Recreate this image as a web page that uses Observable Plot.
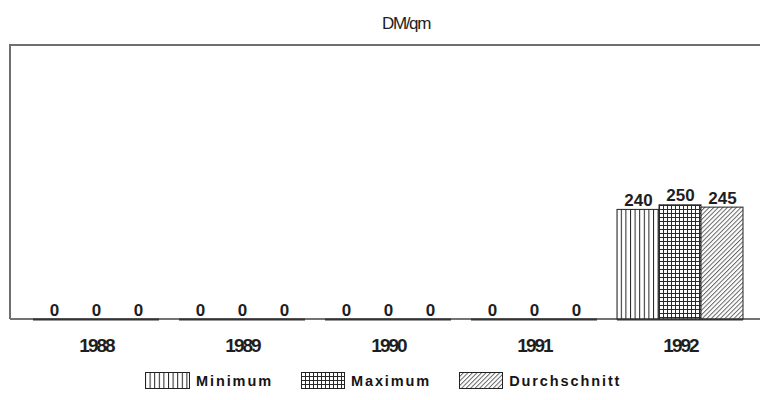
<!DOCTYPE html>
<html>
<head>
<meta charset="utf-8">
<script src="https://cdn.jsdelivr.net/npm/d3@7"></script>
<script src="https://cdn.jsdelivr.net/npm/@observablehq/plot@0.6"></script>
<style>
  body { margin: 0; background: #fff; font-family: "Liberation Sans", Arial, sans-serif; color: #1e1e1e; }
  #title {
    width: 760px; height: 33px; box-sizing: border-box; padding-left: 52px;
    text-align: center; font-family: "Liberation Sans", Arial, sans-serif;
    font-size: 17px; letter-spacing: -1.4px; line-height: 48px; color: #222;
  }
  #legend { display: flex; align-items: center; margin-left: 145px; padding-top: 9px; }
  #legend .item { display: flex; align-items: center; margin-right: 28px; }
  #legend svg { margin-right: 6px; display: block; }
  #legend span { font-weight: bold; font-size: 14.5px; letter-spacing: 1.9px; color: #151515; }
</style>
</head>
<body>
<!-- hatch patterns shared by the bars and the legend swatches -->
<svg width="0" height="0" style="position:absolute">
  <defs>
    <pattern id="p-min" patternUnits="userSpaceOnUse" width="4.6" height="10">
      <rect width="4.6" height="10" fill="#fff"/>
      <line x1="0.5" y1="0" x2="0.5" y2="10" stroke="#222" stroke-width="1"/>
    </pattern>
    <pattern id="p-max" patternUnits="userSpaceOnUse" width="4" height="4">
      <rect width="4" height="4" fill="#fff"/>
      <path d="M0.5,0V4M0,0.5H4" stroke="#2a2a2a" stroke-width="1" fill="none"/>
    </pattern>
    <pattern id="p-avg" patternUnits="userSpaceOnUse" width="3.2" height="10" patternTransform="rotate(45)">
      <rect width="3.2" height="10" fill="#fff"/>
      <line x1="0.5" y1="0" x2="0.5" y2="10" stroke="#555" stroke-width="0.9"/>
    </pattern>
  </defs>
</svg>

<div id="title">DM/qm</div>
<div id="chart"></div>
<div id="legend"></div>

<script>
// Price per square metre (DM/qm), by year
const years = [1988, 1989, 1990, 1991, 1992];
const series = ["Minimum", "Maximum", "Durchschnitt"];
const minimum = [0, 0, 0, 0, 240];
const maximum = [0, 0, 0, 0, 250];
const durchschnitt = [0, 0, 0, 0, 245];
const fills = ["url(#p-min)", "url(#p-max)", "url(#p-avg)"];

const rows = years.flatMap((year, i) => [
  {year, series: series[0], value: minimum[i]},
  {year, series: series[1], value: maximum[i]},
  {year, series: series[2], value: durchschnitt[i]}
]);

const W = 760, H = 330;
const mL = 10, mR = 0, mT = 12, mB = 44;

const plot = Plot.plot({
  width: W, height: H,
  marginLeft: mL, marginRight: mR, marginTop: mT, marginBottom: mB,
  style: {background: "transparent", fontFamily: "Liberation Sans, Arial, sans-serif", color: "#1e1e1e"},
  fx: {domain: years, range: [17.35, 758.65], paddingInner: 0.14, paddingOuter: 0.1, axis: null},
  x: {domain: series, padding: 0, axis: null},
  y: {domain: [0, 600], axis: null},
  color: {domain: series, range: fills},
  marks: [
    Plot.barY(rows, {fx: "year", x: "series", y: "value", fill: "series", stroke: "#222", strokeWidth: 1}),
    Plot.ruleY([0], {stroke: "#333", strokeWidth: 2}),
    Plot.text(rows, {
      fx: "year", x: "series", y: "value", text: d => String(d.value),
      lineAnchor: "bottom", dy: -4, fontSize: 17, fontWeight: "bold", fill: "#1e1e1e"
    }),
    Plot.text(years, {
      fx: d => d, text: d => String(d), frameAnchor: "bottom", dy: 26, lineAnchor: "middle",
      fontSize: 19, fontWeight: "bold", fill: "#1e1e1e", className: "year-label"
    })
  ]
});

// condensed look of the year labels
d3.select(plot).selectAll(".year-label text").style("letter-spacing", "-2px");

// open frame: top and left edges plus the baseline across the full width
const y = plot.scale("y");
const yTop = y.apply(600), yBase = y.apply(0);
const svg = d3.select(plot);
svg.insert("path", ":first-child")
  .attr("d", `M${mL},${yBase}V${yTop}H${W}`)
  .attr("fill", "none").attr("stroke", "#6f6f6f").attr("stroke-width", 2);
svg.insert("line", ":first-child")
  .attr("x1", mL).attr("x2", W).attr("y1", yBase).attr("y2", yBase)
  .attr("stroke", "#444").attr("stroke-width", 1.5);

document.getElementById("chart").append(plot);

// legend
const swatchW = [45, 44, 44];
const legend = d3.select("#legend");
series.forEach((name, i) => {
  const item = legend.append("div").attr("class", "item");
  const s = item.append("svg").attr("width", swatchW[i]).attr("height", 17);
  s.append("rect").attr("x", 0.5).attr("y", 0.5).attr("width", swatchW[i] - 1).attr("height", 16)
    .attr("fill", fills[i]).attr("stroke", "#222").attr("stroke-width", 1);
  item.append("span").text(name);
});
</script>
</body>
</html>
